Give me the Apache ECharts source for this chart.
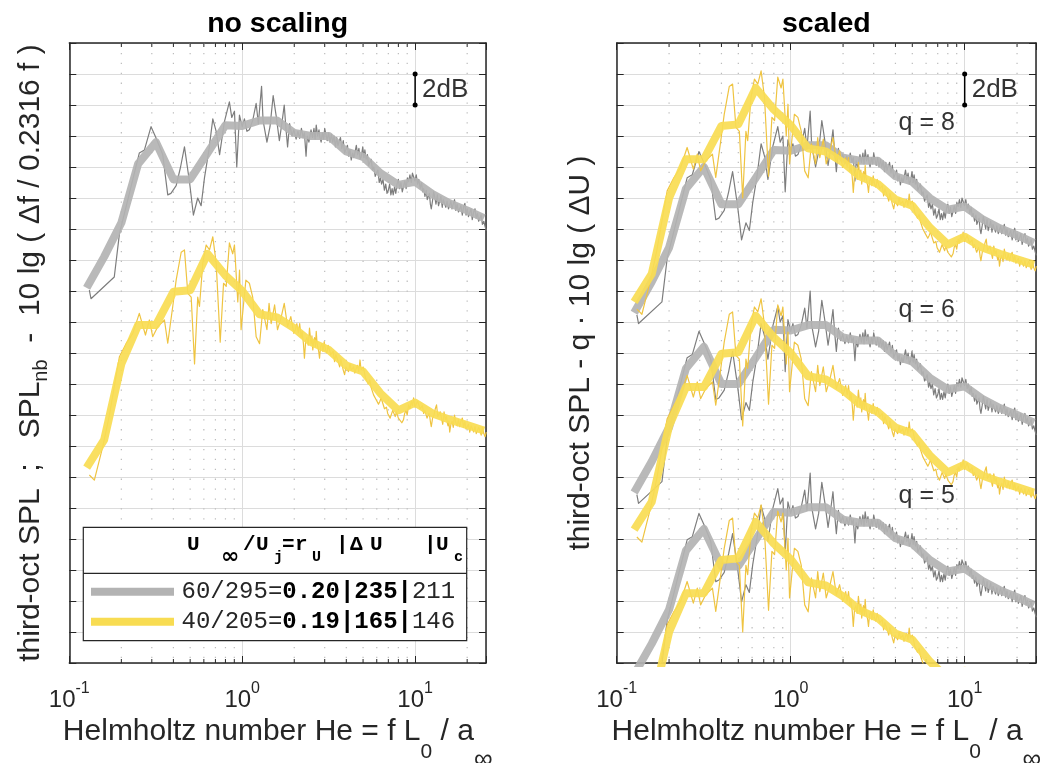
<!DOCTYPE html>
<html><head><meta charset="utf-8">
<script src="https://cdn.jsdelivr.net/npm/echarts@6/dist/echarts.min.js"></script>
<style>html,body{margin:0;padding:0;background:#fff}#c{width:1040px;height:763px}</style>
</head><body><div id="c"></div>
<script>
// ---------- data ----------
const panelTitles = ['no scaling', 'scaled'];
const bandHe = [0.126,0.159,0.2,0.25,0.317,0.4,0.5,0.63,0.8,1.0,1.26,1.59,2.0,2.5,3.17,4.0,5.0,6.3,8.0,10,12.6,15.9,20,25];
const grayThird = [24.2,26.2,28.4,32.2,33.6,31.2,31.2,32.9,34.7,34.65,35.0,35.0,34.2,34.0,34.0,33.0,32.65,31.6,30.85,31.05,30.25,29.65,29.2,28.7];
const yellowThird = [12.6,14.4,19.3,21.8,21.8,23.95,24.05,26.4,25.0,24.0,22.5,22.3,21.6,20.7,20.2,19.2,18.8,17.4,16.3,16.8,16.1,15.7,15.35,15.0];
const grayNarrow = [[0.1306,24.06],[0.1335,23.5],[0.182,24.9],[0.195,27.7],[0.254,32.9],[0.272,33.1],[0.297,34.6],[0.318,33.85],[0.347,32.8],[0.371,30.2],[0.387,30.3],[0.415,30.8],[0.44,32.0],[0.4635,33.3],[0.4955,31.05],[0.522,28.9],[0.553,30.0],[0.5786,29.5],[0.605,31.3],[0.64,33.0],[0.676,35.1],[0.707,34.3],[0.74,32.8],[0.788,34.9],[0.843,36.2],[0.87,35.2],[0.902,35.6],[0.93,32.0],[0.964,35.35],[1.0,34.6],[1.03,35.1],[1.065,34.3],[1.1,34.4],[1.15,35.0],[1.204,36.1],[1.24,34.8],[1.294,37.2],[1.32,35.0],[1.35,34.4],[1.39,33.6],[1.448,34.6],[1.51,36.6],[1.574,35.25],[1.64,33.7],[1.7,34.9],[1.75,36.0],[1.79,34.5],[1.83,33.3],[1.88,34.8],[1.94,34.0],[1.99,34.4],[2.05,33.8],[2.1,34.3],[2.15,33.85],[2.2,34.5],[2.25,33.9],[2.29,34.2],[2.34,32.7],[2.38,34.0],[2.43,33.6],[2.5,34.4],[2.55,33.9],[2.6,34.5],[2.64,33.8],[2.68,34.7],[2.73,34.0],[2.78,34.4],[2.82,33.9],[2.86,33.6],[2.91,34.2],[2.96,33.8],[3.0,34.5],[3.05,34.4],[3.1,33.7],[3.16,34.2],[3.22,33.6],[3.28,34.1],[3.34,33.6],[3.4,34.0],[3.46,33.3],[3.52,33.9],[3.58,33.4],[3.64,33.5],[3.7,33.9],[3.77,33.2],[3.84,33.7],[3.91,32.9],[3.99,33.0],[4.06,33.4],[4.13,32.7],[4.2,33.1],[4.27,32.45],[4.35,32.9],[4.42,32.6],[4.5,33.0],[4.57,33.4],[4.65,32.8],[4.73,33.2],[4.81,32.5],[4.89,32.7],[4.98,33.3],[5.06,32.6],[5.12,33.1],[5.21,32.5],[5.3,32.8],[5.38,32.1],[5.47,32.2],[5.57,32.5],[5.67,31.8],[5.77,32.0],[5.88,31.4],[5.98,31.5],[6.09,31.8],[6.2,31.0],[6.3,31.3],[6.4,30.9],[6.52,31.2],[6.64,30.5],[6.76,30.9],[6.88,30.3],[7.0,30.5],[7.12,30.9],[7.24,30.2],[7.36,30.6],[7.47,30.2],[7.6,30.7],[7.73,30.3],[7.86,30.9],[8.0,31.2],[8.14,30.6],[8.28,31.0],[8.43,30.4],[8.57,30.5],[8.72,31.1],[8.87,30.6],[9.02,31.3],[9.17,31.05],[9.33,31.5],[9.5,31.0],[9.65,31.6],[9.8,31.7],[9.98,31.1],[10.15,31.5],[10.33,30.9],[10.5,31.2],[10.7,30.6],[10.9,31.0],[11.05,30.4],[11.2,30.6],[11.4,30.1],[11.6,30.5],[11.75,29.9],[11.9,29.9],[12.1,30.3],[12.25,29.6],[12.4,29.3],[12.6,29.8],[12.8,30.4],[12.97,30.1],[13.2,29.6],[13.45,30.2],[13.65,29.5],[13.9,29.55],[14.1,30.1],[14.35,29.4],[14.55,29.9],[14.8,30.0],[15.05,29.4],[15.3,29.8],[15.6,29.3],[15.85,29.2],[16.1,29.8],[16.35,29.3],[16.6,29.6],[16.9,29.9],[17.2,29.2],[17.5,29.6],[17.8,29.1],[18.1,29.0],[18.4,29.5],[18.75,28.9],[19.05,29.4],[19.4,29.65],[19.7,28.9],[20.0,29.3],[20.35,28.8],[20.7,28.9],[21.05,29.3],[21.4,28.6],[21.8,29.1],[22.2,29.3],[22.55,28.7],[22.95,29.0],[23.3,28.5],[23.7,28.6],[24.1,28.9],[24.5,28.3],[24.95,28.5],[25.4,28.15],[25.8,27.9]];
const yellowNarrow = [[0.1306,12.13],[0.1396,11.8],[0.156,13.95],[0.17,15.9],[0.195,19.76],[0.213,20.6],[0.233,21.27],[0.254,22.56],[0.26,22.66],[0.2757,21.16],[0.2905,22.13],[0.3036,21.05],[0.3246,21.7],[0.355,22.13],[0.371,20.63],[0.3965,23.0],[0.4149,24.7],[0.4437,26.5],[0.4635,26.65],[0.4845,23.85],[0.507,23.6],[0.53,19.3],[0.553,23.6],[0.566,23.0],[0.5915,25.8],[0.619,26.97],[0.647,26.65],[0.676,27.5],[0.707,25.8],[0.746,20.7],[0.78,24.5],[0.808,24.3],[0.843,27.1],[0.881,26.4],[0.902,26.97],[0.943,23.3],[0.965,25.35],[0.985,21.5],[1.05,24.7],[1.1,24.5],[1.15,23.6],[1.204,21.05],[1.26,20.6],[1.315,22.8],[1.39,21.5],[1.43,23.2],[1.47,21.9],[1.54,23.1],[1.6,21.5],[1.68,22.3],[1.75,23.2],[1.83,21.7],[1.91,22.35],[1.99,21.27],[2.03,21.5],[2.07,21.9],[2.11,21.3],[2.15,21.9],[2.19,21.0],[2.22,21.4],[2.26,20.6],[2.29,19.66],[2.33,20.8],[2.37,21.0],[2.41,20.5],[2.45,21.6],[2.5,20.6],[2.53,21.1],[2.56,20.2],[2.59,20.7],[2.62,21.0],[2.65,20.4],[2.68,21.4],[2.71,20.6],[2.74,20.5],[2.77,20.1],[2.8,19.66],[2.84,20.4],[2.89,20.6],[2.93,20.1],[2.98,20.73],[3.03,20.2],[3.09,20.0],[3.14,20.5],[3.2,20.4],[3.25,19.9],[3.31,19.8],[3.36,20.1],[3.42,19.44],[3.48,19.9],[3.54,20.0],[3.6,19.4],[3.66,19.1],[3.72,19.6],[3.78,19.5],[3.84,18.9],[3.91,18.6],[3.98,19.1],[4.05,19.2],[4.12,18.8],[4.2,19.3],[4.27,18.9],[4.34,18.8],[4.41,19.1],[4.48,18.7],[4.56,19.0],[4.64,19.2],[4.72,18.8],[4.8,19.55],[4.87,18.9],[4.93,18.8],[5.0,19.1],[5.06,18.9],[5.16,18.4],[5.26,18.5],[5.36,18.0],[5.47,18.26],[5.56,17.8],[5.65,17.9],[5.75,17.3],[5.84,17.4],[5.94,17.0],[6.04,17.1],[6.14,16.7],[6.24,16.86],[6.36,17.1],[6.5,17.0],[6.65,16.4],[6.83,16.5],[6.94,16.1],[7.05,16.2],[7.17,15.8],[7.29,15.9],[7.42,16.3],[7.55,16.4],[7.67,15.9],[7.8,16.2],[8.0,15.8],[8.2,15.9],[8.38,15.5],[8.57,15.7],[8.7,16.1],[8.85,16.3],[9.0,16.0],[9.17,16.65],[9.33,16.4],[9.5,16.9],[9.65,16.6],[9.8,17.1],[9.98,16.5],[10.15,16.6],[10.33,16.9],[10.5,16.86],[10.68,16.4],[10.85,16.3],[11.02,16.6],[11.2,16.1],[11.38,16.3],[11.55,16.4],[11.72,15.8],[11.9,15.7],[12.02,16.1],[12.15,15.9],[12.28,15.5],[12.4,15.25],[12.62,15.8],[12.85,16.0],[13.08,16.4],[13.3,16.65],[13.52,15.9],[13.75,15.8],[13.98,16.2],[14.2,15.8],[14.45,15.4],[14.7,16.2],[14.95,15.7],[15.2,15.9],[15.35,15.5],[15.5,15.3],[15.68,15.6],[15.85,14.9],[16.1,15.4],[16.35,15.6],[16.62,15.2],[16.9,16.0],[17.2,15.5],[17.5,15.3],[17.8,15.7],[18.1,15.25],[18.42,15.6],[18.75,15.8],[19.07,15.2],[19.4,15.57],[19.7,15.1],[20.0,15.0],[20.35,15.4],[20.7,14.9],[21.07,15.3],[21.45,15.4],[21.82,14.9],[22.2,15.25],[22.57,14.8],[22.95,14.8],[23.32,15.2],[23.7,15.0],[24.1,14.7],[24.5,15.2],[24.95,14.8],[25.4,14.6],[25.8,14.9]];
// vertical shifts of the three groups in the "scaled" panel (q = 8, 6, 5)
const qLabels = ['q = 8', 'q = 6', 'q = 5'];
const scaledGrayShift = [-1.6, -13.2, -24.95];
const scaledYellowShift = [10.7, -4.0, -17.3];
const qLabelHe = 6.05;
const qLabelDb = [34.85, 22.77, 10.76];
// axis ticks
const xMin = 0.1, xMax = 25.7;
const yMin = 0, yMax = 40, yStep = 2;
const minorHe = [0.2,0.3,0.4,0.5,0.6,0.7,0.8,0.9,2,3,4,5,6,7,8,9,20];
const barHe = 10, barDb = [36, 38], barText = '2dB';
const legendHeader = [['U',187,'m'],['\u221e',221,'s'],['/',243,'m'],['U',256,'m'],['j',274,'s'],['=',282,'m'],['r',295,'m'],['U',312,'s'],['|',336,'m'],['\u0394',350,'m'],['U',370,'m'],['|',424,'m'],['U',436,'m'],['c',454,'s']];
const legendRows = ['60/295={b|0.20|235|}211', '40/205={b|0.19|165|}146'];

// ---------- chart ----------
const FONT = 'Liberation Sans';
const AX = '#262626';
const GRID_C = '#dcdcdc';
const C_GRAY_THICK = '#b3b3b3', C_GRAY_THIN = '#7d7d7d';
const C_YEL_THICK = '#f8dc52', C_YEL_THIN = '#efc441';

const grids = [
  {left: 69.3, top: 43, width: 416.7, height: 620, outerBoundsMode: 'none', containLabel: false},
  {left: 616.7, top: 43, width: 419.3, height: 620, outerBoundsMode: 'none', containLabel: false}
];

function logLabel(v) {
  const e = Math.log10(v);
  if (Math.abs(e - Math.round(e)) > 0.01) return '';
  return '{b|10}{s|' + Math.round(e) + '}';
}
const xName = '{m|Helmholtz number He = f L}{s|0}{m| / a}{i|\u221e}';
const yNames = ['{m|third-oct SPL  ;   SPL}{s|nb}{m|  -  10 lg ( \u0394f / 0.2316 f )}',
                '{m|third-oct SPL - q \u00b7 10 lg ( \u0394U )}'];

const xAxis = [], yAxis = [];
[0, 1].forEach(g => {
  const base = {type: 'log', logBase: 10, min: xMin, max: xMax, gridIndex: g,
    axisLine: {show: true, onZero: false, lineStyle: {color: AX, width: 1.5}},
    axisTick: {show: true, inside: true, length: 7, lineStyle: {color: AX, width: 1}},
    minorTick: {show: false}, minorSplitLine: {show: false}};
  xAxis.push(Object.assign({}, base, {position: 'bottom',
    splitLine: {show: true, lineStyle: {color: GRID_C, width: 1}},
    axisLabel: {show: true, margin: 18, formatter: logLabel, color: AX,
      rich: {b: {fontSize: 24, fontFamily: FONT, color: AX, verticalAlign: 'top', padding: [7, 0, 0, 0]},
             s: {fontSize: 16, fontFamily: FONT, color: AX, verticalAlign: 'top'}}},
    name: xName, nameLocation: 'middle', nameGap: 54, nameMoveOverlap: false,
    nameTextStyle: {color: AX, rich: {
      m: {fontSize: 30, fontFamily: FONT, color: AX, verticalAlign: 'top'},
      s: {fontSize: 21, fontFamily: FONT, color: AX, verticalAlign: 'top', padding: [25, 0, 0, 0]},
      i: {fontSize: 26, fontFamily: FONT, color: AX, verticalAlign: 'top', padding: [30, 0, 0, 0]}}}
  }));
  xAxis.push(Object.assign({}, base, {position: 'top', splitLine: {show: false}, axisLabel: {show: false}}));
  const ybase = {type: 'value', min: yMin, max: yMax, interval: yStep, gridIndex: g,
    axisLine: {show: true, onZero: false, lineStyle: {color: AX, width: 1.5}},
    axisTick: {show: true, inside: true, length: 7, lineStyle: {color: AX, width: 1}},
    axisLabel: {show: false}};
  yAxis.push(Object.assign({}, ybase, {position: 'left',
    splitLine: {show: true, lineStyle: {color: GRID_C, width: 1}},
    name: yNames[g], nameLocation: 'middle', nameGap: g === 0 ? 18 : 21, nameMoveOverlap: false,
    nameTextStyle: {color: AX, rich: {
      m: {fontSize: 30, fontFamily: FONT, color: AX, verticalAlign: 'top'},
      s: {fontSize: 20, fontFamily: FONT, color: AX, verticalAlign: 'top', padding: [16, 0, 0, 0]}}}
  }));
  yAxis.push(Object.assign({}, ybase, {position: 'right', splitLine: {show: false}}));
});

function shifted(arr, d) { return arr.map(p => [p[0], +(p[1] + d).toFixed(2)]); }
function bands(vals, d) { return bandHe.map((x, i) => [x, +(vals[i] + d).toFixed(2)]); }
function lineS(g, data, color, width, z, opacity) {
  return {type: 'line', xAxisIndex: g * 2, yAxisIndex: g * 2, data: data, symbol: 'none', showSymbol: false,
    clip: true, silent: true, animation: false, z: z,
    lineStyle: {color: color, width: width, opacity: opacity === undefined ? 1 : opacity, join: 'round'}};
}
function minorSeries(g) {
  return {type: 'custom', xAxisIndex: g * 2, yAxisIndex: g * 2, silent: true, animation: false, z: 1,
    data: minorHe.map(v => [v, yMin]),
    renderItem: function (params, api) {
      const x = api.coord([api.value(0), yMin])[0];
      const cs = params.coordSys;
      return {type: 'group', children: [
        {type: 'line', shape: {x1: x, y1: cs.y, x2: x, y2: cs.y + cs.height}, style: {stroke: '#bcbcbc', lineWidth: 1.2, lineDash: [1.3, 8.6]}},
        {type: 'line', shape: {x1: x, y1: cs.y + cs.height, x2: x, y2: cs.y + cs.height - 4}, style: {stroke: AX, lineWidth: 1}},
        {type: 'line', shape: {x1: x, y1: cs.y, x2: x, y2: cs.y + 4}, style: {stroke: AX, lineWidth: 1}}
      ]};
    }};
}
function barSeries(g) {
  return [{type: 'line', xAxisIndex: g * 2, yAxisIndex: g * 2, data: barDb.map(v => [barHe, v]), symbol: 'circle', symbolSize: 5,
      silent: true, animation: false, z: 6, itemStyle: {color: '#000'}, lineStyle: {color: '#000', width: 1.5}},
    {type: 'scatter', xAxisIndex: g * 2, yAxisIndex: g * 2, data: [[barHe, (barDb[0] + barDb[1]) / 2]], symbolSize: 0,
      silent: true, animation: false, z: 6,
      label: {show: true, position: 'right', distance: 7, formatter: barText, fontSize: 26, fontFamily: FONT, color: '#000'}}];
}

const series = [];
series.push(minorSeries(0));
series.push(lineS(0, grayNarrow, C_GRAY_THIN, 1.2, 2));
series.push(lineS(0, bands(grayThird, 0), C_GRAY_THICK, 8, 3, 0.92));
series.push(lineS(0, yellowNarrow, C_YEL_THIN, 1.2, 4));
series.push(lineS(0, bands(yellowThird, 0), C_YEL_THICK, 8, 5, 0.92));
series.push(...barSeries(0));
series.push(minorSeries(1));
scaledGrayShift.forEach((d, k) => {
  series.push(lineS(1, shifted(grayNarrow, d), C_GRAY_THIN, 1.2, 2));
  series.push(lineS(1, bands(grayThird, d), C_GRAY_THICK, 8, 3, 0.92));
  series.push(lineS(1, shifted(yellowNarrow, scaledYellowShift[k]), C_YEL_THIN, 1.2, 4));
  series.push(lineS(1, bands(yellowThird, scaledYellowShift[k]), C_YEL_THICK, 8, 5, 0.92));
});
series.push(...barSeries(1));
series.push({type: 'scatter', xAxisIndex: 2, yAxisIndex: 2, symbolSize: 0, silent: true, animation: false, z: 7,
  data: qLabelDb.map((v, k) => ({value: [qLabelHe, v], name: qLabels[k]})),
  label: {show: true, position: 'inside', formatter: '{b}', fontSize: 25, fontFamily: FONT, color: '#000'}});

const graphic = [];
[[277.6, 0], [826.3, 1]].forEach(([cx, i]) => graphic.push({type: 'text', x: cx, y: 24, z: 10,
  style: {text: panelTitles[i], fontSize: 28.5, fontWeight: 'bold', fontFamily: FONT, fill: '#000', textAlign: 'center', textVerticalAlign: 'middle'}}));
graphic.push({type: 'rect', shape: {x: 83.3, y: 527.3, width: 383.4, height: 113.4}, z: 20,
  style: {fill: '#fff', stroke: AX, lineWidth: 1.2}});
graphic.push({type: 'line', shape: {x1: 83.3, y1: 573.3, x2: 466.7, y2: 573.3}, z: 21, style: {stroke: AX, lineWidth: 1.2}});
legendHeader.forEach(([t, x, k]) => graphic.push({type: 'text', x: x, y: k === 'm' ? 545 : 557, z: 22,
  style: {text: t, fontSize: k === 'm' ? 21 : (t === '\u221e' ? 22 : 15), fontWeight: 'bold',
    fontFamily: t === '\u221e' ? 'DejaVu Sans' : 'Liberation Mono', fill: '#000', textAlign: 'left', textVerticalAlign: 'middle'}}));
[[C_GRAY_THICK, 591.7], [C_YEL_THICK, 621.7]].forEach(([c, y], i) => {
  graphic.push({type: 'line', shape: {x1: 91, y1: y, x2: 174, y2: y}, z: 22, style: {stroke: c, lineWidth: 8}});
  graphic.push({type: 'text', x: 181.5, y: y, z: 22,
    style: {text: legendRows[i], fontSize: 24, fontFamily: 'Liberation Mono', fontWeight: 'normal', fill: '#262626',
      textAlign: 'left', textVerticalAlign: 'middle',
      rich: {b: {fontSize: 24, fontFamily: 'Liberation Mono', fontWeight: 'bold', fill: '#000'}}}});
});

const chart = echarts.init(document.getElementById('c'), null, {renderer: 'canvas'});
chart.setOption({animation: false, backgroundColor: '#fff', grid: grids, xAxis: xAxis, yAxis: yAxis, series: series, graphic: graphic});
</script></body></html>
